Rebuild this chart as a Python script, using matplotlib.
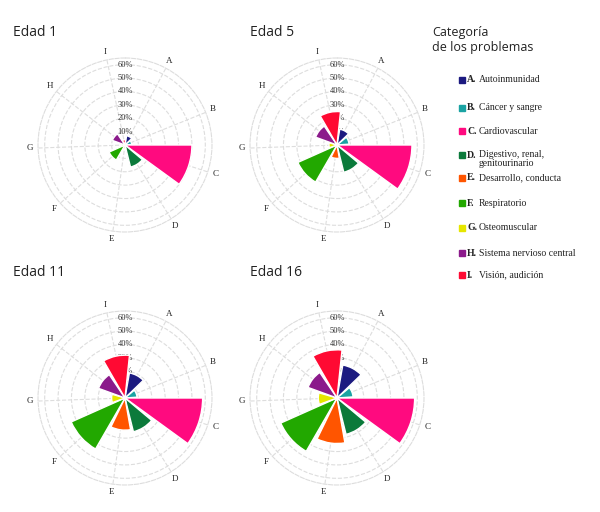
import numpy as np
import matplotlib
matplotlib.use("Agg")
import matplotlib.pyplot as plt

letters = ["A", "B", "C", "D", "E", "F", "G", "H", "I"]
names = ["Autoinmunidad", "Cáncer y sangre", "Cardiovascular",
         "Digestivo, renal,\ngenitourinario", "Desarrollo, conducta",
         "Respiratorio", "Osteomuscular", "Sistema nervioso central",
         "Visión, audición"]
colors = ["#1c1a80", "#1aa3a3", "#ff0a7f", "#0b7a3b", "#ff5500",
          "#22a800", "#e6e600", "#8b1a8b", "#ff0a33"]
ages = ["Edad 1", "Edad 5", "Edad 11", "Edad 16"]
edad1 = [7, 5, 50, 17, 3, 13, 3, 10, 4]
edad5 = [12, 9, 56, 21, 10, 32, 6, 17, 25]
edad11 = [19, 9, 58, 26, 24, 44, 10, 21, 32]
edad16 = [25, 12, 58, 28, 34, 46, 14, 23, 36]
values = [edad1, edad5, edad11, edad16]
rticks = [10, 20, 30, 40, 50, 60]

fig = plt.figure(figsize=(6, 5.12), dpi=100)
W, H = 600, 512
centers = [(125, 145), (337, 145), (125, 398), (337, 398)]
titlepos = [(13, 32), (250, 32), (13, 272), (250, 272)]
R = 87
rmax = 65
angles = np.deg2rad(28 + 40 * np.arange(9))
serif = "Liberation Serif"

for k in range(4):
    cx, cy = centers[k]
    ax = fig.add_axes([(cx - R) / W, (H - cy - R) / H, 2 * R / W, 2 * R / H],
                      projection="polar")
    ax.set_theta_zero_location("N")
    ax.set_theta_direction(-1)
    ax.set_ylim(0, rmax)
    ax.bar(angles, values[k], width=np.deg2rad(36), color=colors,
           edgecolor="white", linewidth=1, zorder=3)
    ax.set_yticks(rticks)
    ax.set_yticklabels([])
    ax.set_xticks(angles)
    ax.set_xticklabels([])
    ax.grid(True, color="#dddddd", linestyle="--", linewidth=0.8)
    ax.spines["polar"].set_color("#dddddd")
    ax.spines["polar"].set_linestyle("--")
    for r in rticks:
        ax.text(0, r, f"{r}%", ha="center", va="center", fontsize=6,
                family=serif, color="#333333", zorder=2)
    for a, l in zip(angles, letters):
        ax.text(a, 71, l, ha="center", va="center", fontsize=6.5,
                family=serif, color="#222222", clip_on=False)
    tx, ty = titlepos[k]
    fig.text(tx / W, 1 - ty / H, ages[k], fontsize=10, family="Open Sans",
             ha="left", va="center", color="#222222")

fig.text(432 / W, 1 - 40 / H, "Categoría\nde los problemas", fontsize=9,
         family="Open Sans", ha="left", va="center", color="#222222",
         linespacing=1.2)
ys = [80, 108, 131, 155, 178, 203, 228, 253, 275]
for y, l, n, c in zip(ys, letters, names, colors):
    fig.patches.append(plt.Rectangle((459 / W, 1 - (y + 3) / H), 6 / W, 6 / H,
                                     transform=fig.transFigure, color=c))
    fig.text(467 / W, 1 - y / H, l + ".", fontsize=7, family=serif,
             weight="bold", ha="left", va="center", color="#222222")
    fig.text(479 / W, 1 - y / H, n, fontsize=7, family=serif,
             ha="left", va="top" if "\n" in n else "center",
             color="#222222", linespacing=1.0) if False else \
        fig.text(479 / W, 1 - (y - 0 if "\n" not in n else y - 5) / H, n,
                 fontsize=7, family=serif, ha="left",
                 va="center" if "\n" not in n else "top", color="#222222",
                 linespacing=1.0)

fig.savefig("out.png", dpi=100, facecolor="white")
